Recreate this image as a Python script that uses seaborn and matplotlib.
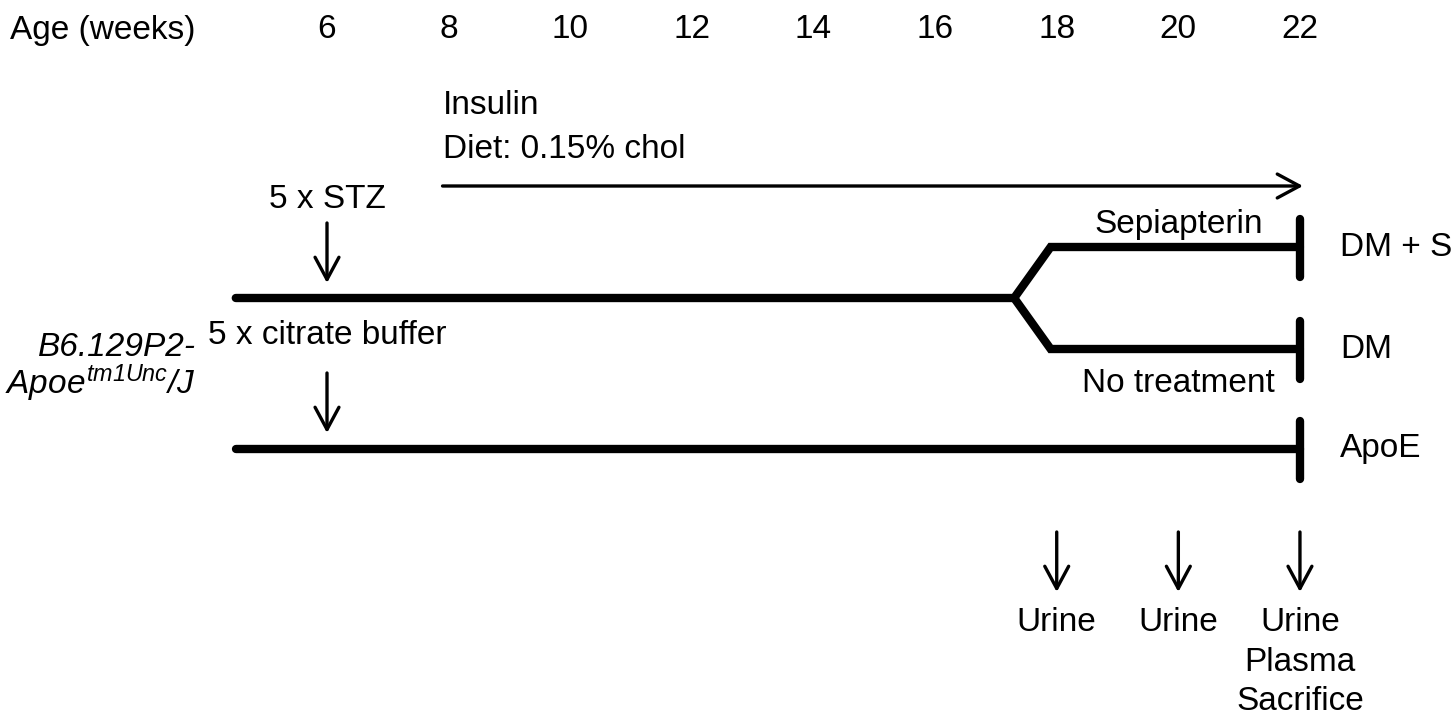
import numpy as np
import pandas as pd
import seaborn as sns
import matplotlib.pyplot as plt

# Timeline data
age_weeks = [6, 8, 10, 12, 14, 16, 18, 20, 22]
start_week = 4.5
branch_week = 17.3
split_week = 17.9
end_week = 22
injection_week = 6
diet_start_week = 7.9
diet_end_week = 22.05
group_names = ["DM + S", "DM", "ApoE"]
group_rows = [247, 349, 449]          # vertical row of each group (px from top)
main_row = 298
branch_labels = ["Sepiapterin", "No treatment"]
sample_weeks = [18, 20, 22]
sample_labels = ["Urine", "Urine", "Urine\nPlasma\nSacrifice"]

sns.set_theme(style="white")
plt.rcParams["font.family"] = ["Liberation Sans", "DejaVu Sans"]
plt.rcParams["text.color"] = "black"
plt.rcParams["mathtext.fontset"] = "custom"
plt.rcParams["mathtext.it"] = "Liberation Sans:italic"
plt.rcParams["mathtext.rm"] = "Liberation Sans:italic"  # only the strain label uses math text

fig = plt.figure(figsize=(14.52, 7.17), dpi=100)
ax = fig.add_axes([0, 0, 1, 1])
px = 60.81
x0 = 6 - 327 / px
ax.set_xlim(x0, 6 + (1452 - 327) / px)
ax.set_ylim(717, 0)
ax.axis("off")

fs = 24
thick = 6
thin = 2.4
arrow = dict(arrowstyle="->,head_length=0.8,head_width=0.43", mutation_scale=20,
             lw=thin, color="black", shrinkA=0, shrinkB=0)

# top age axis
ax.text(x0 + 10 / px, 30, "Age (weeks)", fontsize=fs, ha="left", va="center")
for w in age_weeks:
    ax.text(w, 30, str(w), fontsize=fs, ha="center", va="center")

# group lines
paths = pd.DataFrame({
    "week": [start_week, branch_week, split_week, end_week,
             branch_week, split_week, end_week,
             start_week, end_week],
    "row": [main_row, main_row, group_rows[0], group_rows[0],
            main_row, group_rows[1], group_rows[1],
            group_rows[2], group_rows[2]],
    "path": ["a"] * 4 + ["b"] * 3 + ["c"] * 2,
})
sns.lineplot(data=paths, x="week", y="row", units="path", estimator=None,
             sort=False, color="black", lw=thick, ax=ax,
             solid_capstyle="round", solid_joinstyle="miter")

# end bars and group labels
for name, row in zip(group_names, group_rows):
    ax.plot([end_week, end_week], [row - 28, row + 30], color="black",
            lw=thick, solid_capstyle="round")
    ax.text(end_week + 40 / px, row, name, fontsize=fs, ha="left", va="center")

ax.text(20.0, 224, branch_labels[0], fontsize=fs, ha="center", va="center")
ax.text(20.0, 384, branch_labels[1], fontsize=fs, ha="center", va="center")

# insulin / diet arrow
ax.annotate("", xy=(diet_end_week, 186), xytext=(diet_start_week, 186), arrowprops=arrow)
ax.text(diet_start_week, 106, "Insulin", fontsize=fs, ha="left", va="center")
ax.text(diet_start_week, 150, "Diet: 0.15% chol", fontsize=fs, ha="left", va="center")

# injections
ax.text(injection_week, 200, "5 x STZ", fontsize=fs, ha="center", va="center")
ax.text(injection_week, 336, "5 x citrate buffer", fontsize=fs, ha="center", va="center")
for y0, y1 in [(223, 283), (373, 433)]:
    ax.annotate("", xy=(injection_week, y1), xytext=(injection_week, y0), arrowprops=arrow)

# strain label
xl = x0 + 196 / px
ax.text(xl, 348, "B6.129P2-", fontsize=fs, style="italic", ha="right", va="center")
ax.text(xl, 383, r"$Apoe^{tm1Unc}/J$", fontsize=fs, ha="right", va="center")

# sampling
for w, lab in zip(sample_weeks, sample_labels):
    ax.annotate("", xy=(w, 592), xytext=(w, 532), arrowprops=arrow)
    ax.text(w, 607, lab, fontsize=fs, ha="center", va="top", linespacing=1.36)

fig.savefig("out.png", dpi=100)
